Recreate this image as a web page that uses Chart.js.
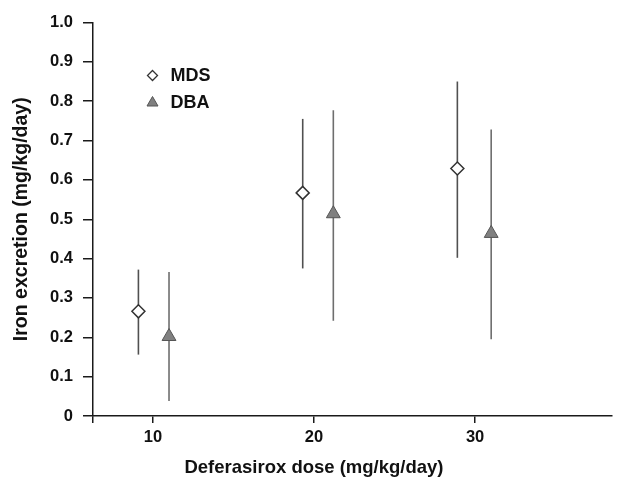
<!DOCTYPE html>
<html>
<head>
<meta charset="utf-8">
<script src="https://cdn.jsdelivr.net/npm/chart.js@4.4.1/dist/chart.umd.min.js"></script>
<style>
  html, body { margin: 0; padding: 0; background: #fff; }
</style>
</head>
<body>
<canvas id="chart" width="623" height="478"></canvas>
<script>
// dose groups (x axis ticks) and the two patient groups, offset around each dose
const xTicks = [10, 20, 30];
const yTicks = [0, 0.1, 0.2, 0.3, 0.4, 0.5, 0.6, 0.7, 0.8, 0.9, 1.0];

const mdsDose = [9.1, 19.3, 28.9];
const mdsMean = [0.266, 0.567, 0.629];
const mdsLow  = [0.156, 0.375, 0.402];
const mdsHigh = [0.372, 0.755, 0.850];

const dbaDose = [11.0, 21.2, 31.0];
const dbaMean = [0.202, 0.514, 0.464];
const dbaLow  = [0.038, 0.242, 0.195];
const dbaHigh = [0.366, 0.777, 0.728];

const FONT = "'Liberation Sans', Arial, Helvetica, sans-serif";
const AXIS = '#1a1a1a';

function toPoints(xs, ys) {
  return xs.map((x, i) => ({ x: x, y: ys[i] }));
}

// vertical range bars behind each marker
const errorBars = {
  id: 'errorBars',
  beforeDatasetsDraw(chart) {
    const { ctx, scales: { x, y } } = chart;
    chart.data.datasets.forEach(ds => {
      ctx.save();
      ctx.strokeStyle = ds.barColor;
      ctx.lineWidth = 1.6;
      ds.data.forEach((p, i) => {
        const px = x.getPixelForValue(p.x);
        ctx.beginPath();
        ctx.moveTo(px, y.getPixelForValue(ds.low[i]));
        ctx.lineTo(px, y.getPixelForValue(ds.high[i]));
        ctx.stroke();
      });
      ctx.restore();
    });
  }
};

// legend in the upper-left of the plot + x title under the "20" group
const extras = {
  id: 'extras',
  afterDraw(chart) {
    const { ctx, chartArea, scales: { x } } = chart;
    ctx.save();
    const lx = chartArea.left + 60;
    const ly = chartArea.top + 53;
    // diamond
    ctx.beginPath();
    ctx.moveTo(lx, ly - 5); ctx.lineTo(lx + 5, ly); ctx.lineTo(lx, ly + 5); ctx.lineTo(lx - 5, ly); ctx.closePath();
    ctx.fillStyle = '#fff'; ctx.fill();
    ctx.strokeStyle = '#333'; ctx.lineWidth = 1.3; ctx.stroke();
    // triangle
    const ty = ly + 27;
    ctx.beginPath();
    ctx.moveTo(lx, ty - 6); ctx.lineTo(lx + 5.5, ty + 3.5); ctx.lineTo(lx - 5.5, ty + 3.5); ctx.closePath();
    ctx.fillStyle = '#808080'; ctx.fill();
    ctx.strokeStyle = '#555'; ctx.lineWidth = 1; ctx.stroke();

    ctx.fillStyle = '#111';
    ctx.font = 'bold 18px ' + FONT;
    ctx.textAlign = 'left';
    ctx.textBaseline = 'middle';
    ctx.fillText('MDS', lx + 18, ly + 1);
    ctx.fillText('DBA', lx + 18, ty + 1);

    ctx.textAlign = 'center';
    ctx.font = 'bold 18.5px ' + FONT;
    ctx.fillText('Deferasirox dose (mg/kg/day)', x.getPixelForValue(20), chart.height - 10);
    ctx.restore();
  }
};

new Chart(document.getElementById('chart'), {
  type: 'scatter',
  data: {
    datasets: [
      {
        label: 'MDS',
        data: toPoints(mdsDose, mdsMean),
        low: mdsLow, high: mdsHigh, barColor: '#505050',
        pointStyle: 'rectRot',
        pointRadius: 6.5,
        backgroundColor: '#ffffff',
        borderColor: '#333333',
        borderWidth: 1.5
      },
      {
        label: 'DBA',
        data: toPoints(dbaDose, dbaMean),
        low: dbaLow, high: dbaHigh, barColor: '#6e6e6e',
        pointStyle: 'triangle',
        pointRadius: 8,
        backgroundColor: '#808080',
        borderColor: '#555555',
        borderWidth: 1
      }
    ]
  },
  options: {
    responsive: false,
    animation: false,
    layout: { padding: { left: 0, top: 22.5, right: 11, bottom: 0 } },
    plugins: {
      legend: { display: false },
      tooltip: { enabled: false }
    },
    scales: {
      x: {
        type: 'linear',
        min: 6.25,
        max: 38.5,
        afterBuildTicks: s => { s.ticks = [s.min].concat(xTicks).map(v => ({ value: v })); },
        afterFit: s => { s.height = 62; },
        ticks: {
          autoSkip: false,
          maxRotation: 0,
          padding: 5,
          color: '#111',
          font: { family: FONT, size: 16.5, weight: 'bold' },
          callback: v => xTicks.includes(v) ? String(v) : ''
        },
        grid: { drawOnChartArea: false, tickLength: 7, color: AXIS, lineWidth: 1.5 },
        border: { color: AXIS, width: 1.5 }
      },
      y: {
        min: 0,
        max: 1,
        afterBuildTicks: s => { s.ticks = yTicks.map(v => ({ value: v })); },
        afterFit: s => { s.width = 92.5; },
        ticks: {
          padding: 10,
          color: '#111',
          font: { family: FONT, size: 16.5, weight: 'bold' },
          callback: v => v === 0 ? '0' : v.toFixed(1)
        },
        grid: { drawOnChartArea: false, tickLength: 9.5, color: AXIS, lineWidth: 1.5 },
        border: { color: AXIS, width: 1.5 },
        title: {
          display: true,
          text: 'Iron excretion (mg/kg/day)',
          color: '#111',
          font: { family: FONT, size: 19.5, weight: 'bold', lineHeight: 1.2 },
          padding: { top: 10, bottom: 0 }
        }
      }
    }
  },
  plugins: [errorBars, extras]
});
</script>
</body>
</html>
